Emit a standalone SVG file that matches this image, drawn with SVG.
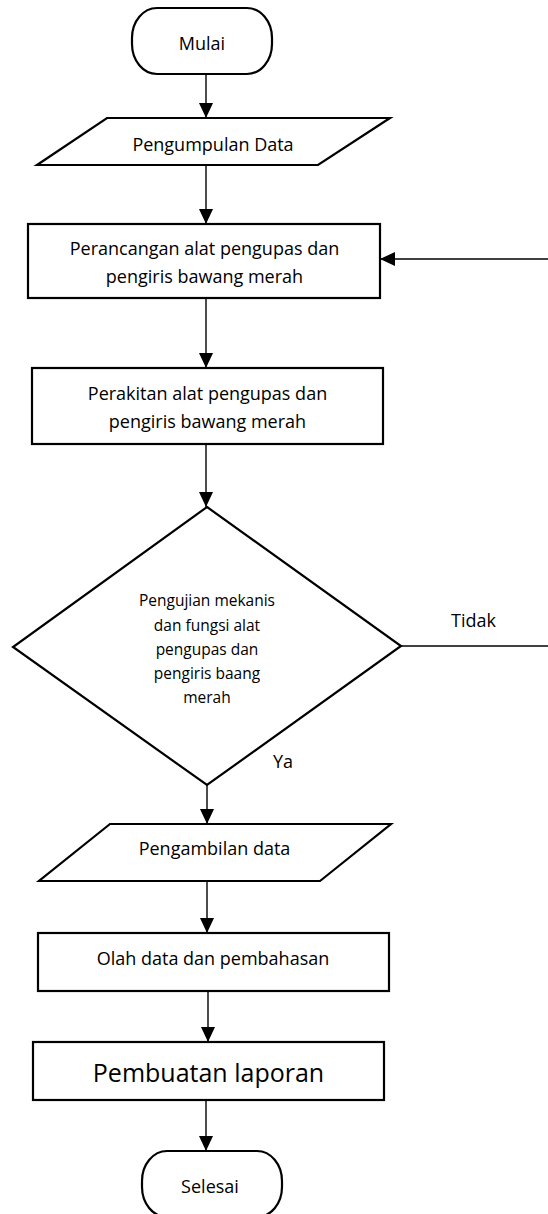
<svg xmlns="http://www.w3.org/2000/svg" width="548" height="1214" viewBox="0 0 548 1214">
  <style>
    .shape { fill: #ffffff; stroke: #000000; stroke-width: 2.2; }
    .conn { fill: none; stroke: #000000; stroke-width: 1.4; }
    .t { font-family: "Open Sans", "Liberation Sans", sans-serif; font-size: 18px; fill: #000000; text-anchor: middle; }
    .ts { font-family: "Open Sans", "Liberation Sans", sans-serif; font-size: 15.5px; fill: #000000; text-anchor: middle; }
    .tl { font-family: "Open Sans", "Liberation Sans", sans-serif; font-size: 25px; fill: #000000; text-anchor: middle; }
    .lbl { font-family: "Open Sans", "Liberation Sans", sans-serif; font-size: 18px; fill: #000000; }
  </style>
  <defs>
    <marker id="arr" markerUnits="userSpaceOnUse" markerWidth="15" markerHeight="14" refX="15" refY="7" orient="auto">
      <path d="M0,0 L15,7 L0,14 z" fill="#000000"/>
    </marker>
  </defs>
  <rect width="548" height="1214" fill="#ffffff"/>

  <g id="connectors">
    <line class="conn" x1="206" y1="74" x2="206" y2="118" marker-end="url(#arr)"/>
    <line class="conn" x1="206" y1="165" x2="206" y2="224" marker-end="url(#arr)"/>
    <line class="conn" x1="548" y1="259" x2="380" y2="259" marker-end="url(#arr)"/>
    <line class="conn" x1="206" y1="298" x2="206" y2="368" marker-end="url(#arr)"/>
    <line class="conn" x1="206" y1="444" x2="206" y2="507" marker-end="url(#arr)"/>
    <line class="conn" x1="401" y1="646" x2="548" y2="646"/>
    <line class="conn" x1="207" y1="785" x2="207" y2="824" marker-end="url(#arr)"/>
    <line class="conn" x1="207" y1="881" x2="207" y2="933" marker-end="url(#arr)"/>
    <line class="conn" x1="208" y1="991" x2="208" y2="1042" marker-end="url(#arr)"/>
    <line class="conn" x1="206" y1="1100" x2="206" y2="1151" marker-end="url(#arr)"/>
    <text class="lbl" x="451" y="627">Tidak</text>
    <text class="lbl" x="273" y="768">Ya</text>
  </g>

  <g id="mulai">
    <rect class="shape" x="132" y="8" width="140" height="66" rx="25" ry="30"/>
    <text class="t" x="202" y="50">Mulai</text>
  </g>

  <g id="pengumpulan-data">
    <polygon class="shape" points="107,118 390,118 318,165 37,165"/>
    <text class="t" x="213" y="151">Pengumpulan Data</text>
  </g>

  <g id="perancangan">
    <rect class="shape" x="28" y="224" width="352" height="74"/>
    <text class="t" x="204.5" y="255">Perancangan alat pengupas dan</text>
    <text class="t" x="204.5" y="283">pengiris bawang merah</text>
  </g>

  <g id="perakitan">
    <rect class="shape" x="32" y="368" width="351" height="76"/>
    <text class="t" x="207.5" y="400">Perakitan alat pengupas dan</text>
    <text class="t" x="207.5" y="428">pengiris bawang merah</text>
  </g>

  <g id="pengujian">
    <polygon class="shape" points="207,507 401,646 207,785 13,647"/>
    <text class="ts" x="207" y="606">Pengujian mekanis</text>
    <text class="ts" x="207" y="631">dan fungsi alat</text>
    <text class="ts" x="207" y="655">pengupas dan</text>
    <text class="ts" x="207" y="679">pengiris baang</text>
    <text class="ts" x="207" y="703">merah</text>
  </g>

  <g id="pengambilan-data">
    <polygon class="shape" points="110,824 391,824 320,881 39,881"/>
    <text class="t" x="214.5" y="855">Pengambilan data</text>
  </g>

  <g id="olah-data">
    <rect class="shape" x="38" y="933" width="351" height="58"/>
    <text class="t" x="213" y="965">Olah data dan pembahasan</text>
  </g>

  <g id="pembuatan-laporan">
    <rect class="shape" x="33" y="1042" width="351" height="58"/>
    <text class="tl" x="208.5" y="1082">Pembuatan laporan</text>
  </g>

  <g id="selesai">
    <rect class="shape" x="142" y="1151" width="140" height="66" rx="25" ry="30"/>
    <text class="t" x="210" y="1193">Selesai</text>
  </g>
</svg>
